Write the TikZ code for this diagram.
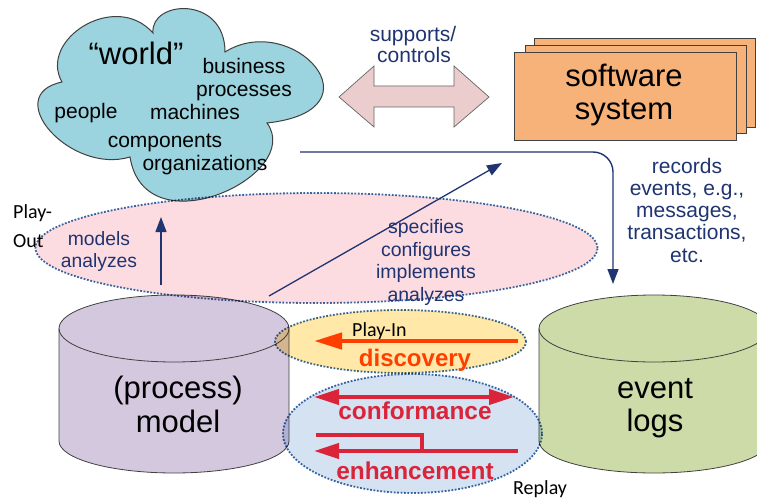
\documentclass[tikz,border=0pt]{standalone}
\usepackage{fontspec}
\setmainfont{Liberation Sans}
\newfontfamily\calfont{Carlito}
\usetikzlibrary{arrows.meta,shapes.geometric}
\definecolor{navy}{RGB}{31,52,112}
\definecolor{cloudblue}{RGB}{155,211,222}
\definecolor{swfill}{RGB}{247,178,121}
\definecolor{pmfill}{RGB}{212,200,222}
\definecolor{elfill}{RGB}{205,219,168}
\definecolor{dblfill}{RGB}{236,205,205}
\definecolor{pinkell}{RGB}{253,220,225}
\definecolor{yellowell}{RGB}{255,232,168}
\definecolor{blueell}{RGB}{212,226,242}
\definecolor{dotblue}{RGB}{58,108,168}
\definecolor{discorange}{RGB}{255,62,0}
\definecolor{confred}{RGB}{218,36,58}
\newcommand\fsz[1]{\fontsize{#1}{#1}\selectfont}
\begin{document}
\begin{tikzpicture}[x=1pt,y=-1pt,
  txt/.style={inner sep=0pt, anchor=base},
  cloudtxt/.style={txt, font=\fsz{21}, text=black},
  bigtxt/.style={txt, font=\fsz{31}, text=black},
  navytxt/.style={txt, font=\fsz{20}, text=navy},
  recstxt/.style={txt, font=\fsz{21}, text=navy},
  playtxt/.style={txt, font=\calfont\fsz{20}, text=black},
  outline/.style={draw=black!75, line width=0.8pt},
  swbox/.style={outline, fill=swfill},
  dotell/.style={ellipse, draw=dotblue, line width=1.8pt, dash pattern=on 1.8pt off 1.6pt, inner sep=0pt},
  navyline/.style={draw=navy, line width=1.3pt},
  navyarrow/.style={navyline, -{Triangle[length=15pt,width=11pt]}},
]
\useasboundingbox (0,0) rectangle (757,500);

% cloud
\filldraw[outline, fill=cloudblue, line width=1pt]
  (62,82) .. controls (38,40) and (115,-10) .. (153,33)
  .. controls (150,0) and (225,-5) .. (225,52)
  .. controls (292,10) and (385,110) .. (267,123)
  .. controls (305,175) and (145,250) .. (130,157)
  .. controls (70,175) and (0,95) .. cycle;
\node[cloudtxt, font=\fsz{31}] (world) at (136,65) {“world”};
\node[cloudtxt] (business) at (244,74) {business};
\node[cloudtxt] (processes) at (244,97) {processes};
\node[cloudtxt] (people) at (86,119) {people};
\node[cloudtxt] (machines) at (195,120) {machines};
\node[cloudtxt] (components) at (165,147) {components};
\node[cloudtxt] (organizations) at (205,170) {organizations};

% software system
\filldraw[swbox] (534,38) rectangle (755,127);
\filldraw[swbox] (525,45) rectangle (746,133);
\filldraw[swbox] (514,52) rectangle (736,140);
\node[bigtxt] (software) at (624,87) {software};
\node[bigtxt] (system) at (624,120) {system};

% supports/controls double arrow
\filldraw[draw=black!60, line width=0.7pt, fill=dblfill]
  (339,97) -- (374,66) -- (374,86) -- (454,86) -- (454,66) -- (489,97)
  -- (454,127) -- (454,107) -- (374,107) -- (374,127) -- cycle;
\node[navytxt, font=\fsz{21}] (supports) at (413,42) {supports/};
\node[navytxt, font=\fsz{21}] (controls) at (414,63) {controls};

% cylinders
\filldraw[outline, fill=pmfill] (59,328.5) -- (59,441)
  arc[start angle=180, end angle=360, x radius=115pt, y radius=32pt]
  -- (289,328.5) arc[start angle=0, end angle=180, x radius=115pt, y radius=33.5pt];
\draw[outline] (59,328.5) arc[start angle=180, end angle=360, x radius=115pt, y radius=33.5pt];
\filldraw[outline, fill=elfill] (539,328.5) -- (539,441)
  arc[start angle=180, end angle=360, x radius=115pt, y radius=32pt]
  -- (769,328.5) arc[start angle=0, end angle=180, x radius=115pt, y radius=33.5pt];
\draw[outline] (539,328.5) arc[start angle=180, end angle=360, x radius=115pt, y radius=33.5pt];
\node[bigtxt] (process) at (178,398) {(process)};
\node[bigtxt] (model) at (178,432) {model};
\node[bigtxt] (event) at (655,398) {event};
\node[bigtxt] (logs) at (655,431) {logs};

% translucent ellipses
\begin{scope}[blend mode=multiply]
\node[dotell, fill=pinkell, minimum width=562pt, minimum height=110pt] (pinkE) at (316.5,248) {};
\node[dotell, fill=yellowell, minimum width=251pt, minimum height=63pt] (yellowE) at (400.5,341.5) {};
\node[dotell, fill=blueell, minimum width=259pt, minimum height=119pt] (blueE) at (412.5,433.5) {};
\end{scope}

% navy connectors
\coordinate (recA) at (300,152);
\coordinate (recB) at (613,284);
\draw[navyarrow, line width=1.4pt, rounded corners=20pt] (recA) -| (recB);
\coordinate (upA) at (161,285);
\coordinate (upB) at (161,217);
\draw[navyarrow] (upA) -- (upB);
\coordinate (diagA) at (269,296);
\coordinate (diagB) at (502,163);
\draw[navyarrow] (diagA) -- (diagB);

% labels
\node[recstxt] (records) at (687,173) {records};
\node[recstxt] (events) at (687,195) {events, e.g.,};
\node[recstxt] (messages) at (687,217) {messages,};
\node[recstxt] (transactions) at (687,239) {transactions,};
\node[recstxt] (etc) at (687,262) {etc.};
\node[navytxt, font=\fsz{19.3}] (models) at (99,245) {models};
\node[navytxt, font=\fsz{19.3}] (analyzesL) at (99,267) {analyzes};
\node[navytxt, font=\fsz{19.5}] (specifies) at (426,233) {specifies};
\node[navytxt, font=\fsz{19.5}] (configures) at (426,256) {configures};
\node[navytxt, font=\fsz{19.5}] (implements) at (426,278) {implements};
\node[navytxt, font=\fsz{19.5}] (analyzesR) at (426,301) {analyzes};
\node[playtxt, anchor=base west] (playout1) at (13,218) {Play-};
\node[playtxt, anchor=base west] (playout2) at (13,247) {Out};
\node[playtxt, anchor=base west] (playin) at (352,336) {Play-In};
\node[playtxt, anchor=base west] (replay) at (513,494) {Replay};

% discovery
\coordinate (discA) at (518,341);
\coordinate (discB) at (314,341);
\draw[draw=discorange, line width=4.5pt, -{Triangle[length=28pt,width=16pt]}] (discA) -- (discB);
\node[txt, font=\bfseries\fsz{24}, text=discorange] (discovery) at (415,366) {discovery};

% conformance
\coordinate (confA) at (314,397);
\coordinate (confB) at (514,397);
\draw[draw=confred, line width=4pt, {Triangle[length=25pt,width=15pt]}-{Triangle[length=25pt,width=15pt]}] (confA) -- (confB);
\node[txt, font=\bfseries\fsz{24.4}, text=confred] (conformance) at (415,419) {conformance};

% enhancement
\coordinate (enhA) at (316,435);
\coordinate (enhK) at (422,435);
\coordinate (enhC) at (518,451);
\coordinate (enhD) at (314,451);
\draw[draw=confred, line width=4pt] (enhA) -- (enhK) -- (enhK |- enhC);
\draw[draw=confred, line width=4pt, -{Triangle[length=25pt,width=15pt]}] (enhC) -- (enhD);
\node[txt, font=\bfseries\fsz{24.4}, text=confred] (enhancement) at (415,479) {enhancement};
\end{tikzpicture}
\end{document}
